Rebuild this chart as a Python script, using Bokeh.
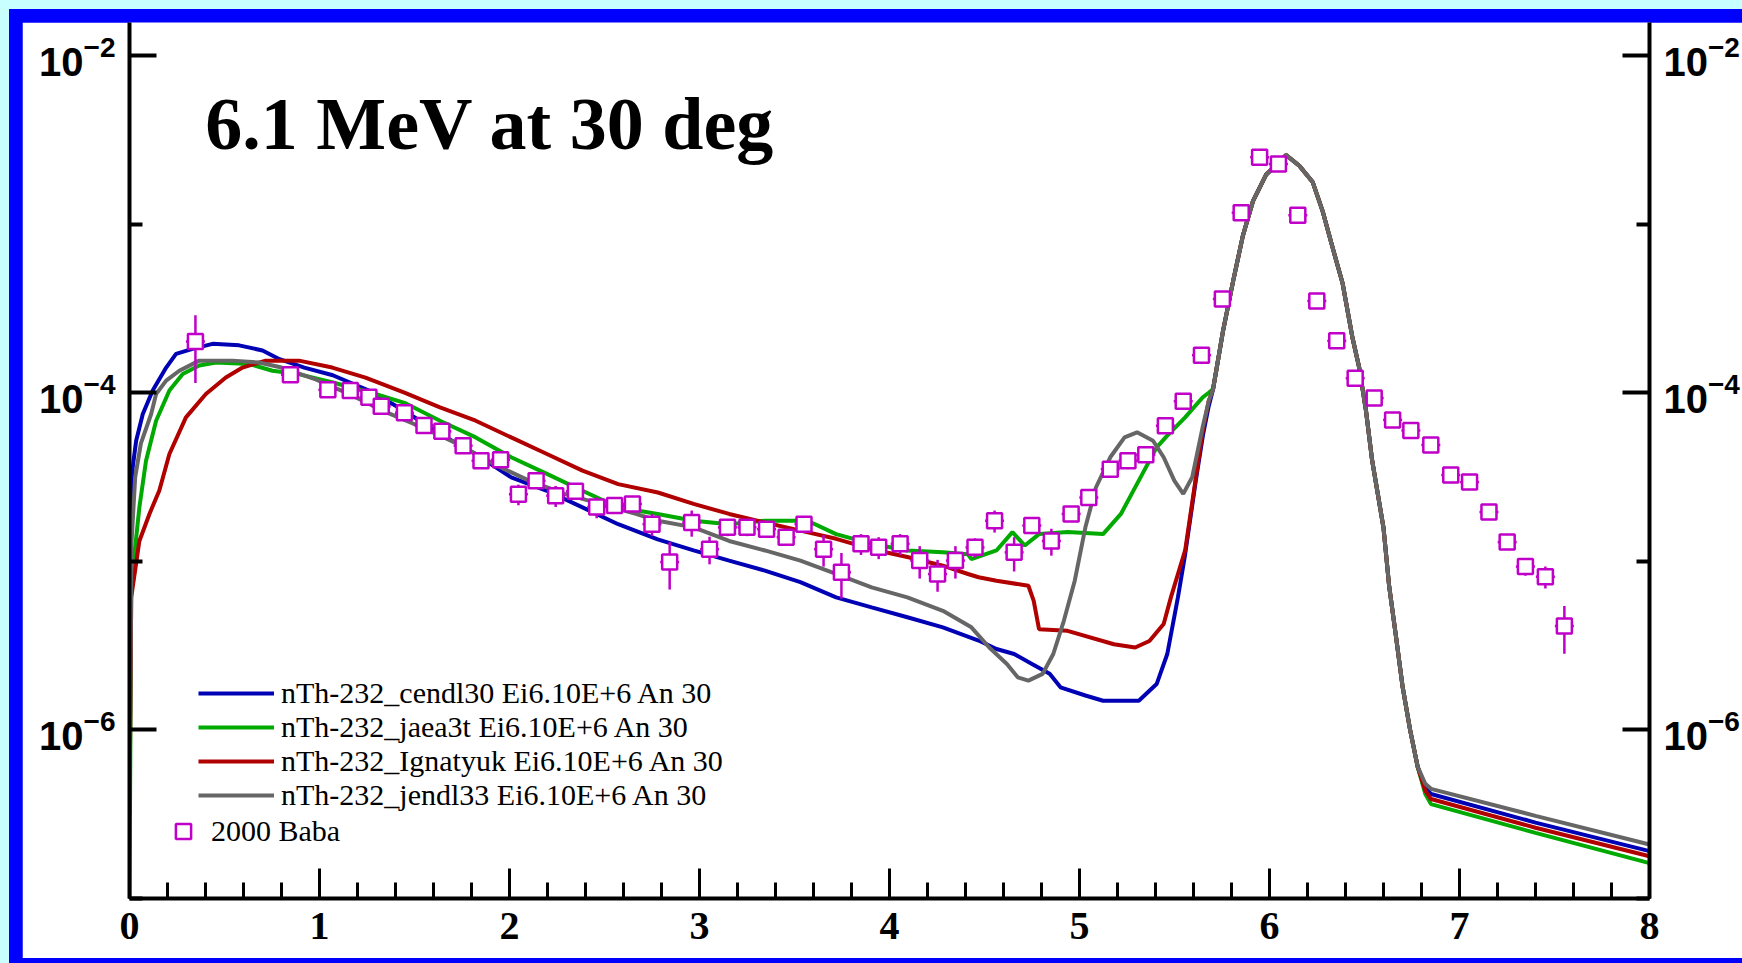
from bokeh.plotting import figure
from bokeh.models import (Range1d, LogAxis, FixedTicker, SingleIntervalTicker,
                          LogTickFormatter, Label, Legend, LegendItem)
from bokeh.embed import file_html
from bokeh.resources import INLINE

# ---------------- data (energy in MeV, DDX values) ----------------
peak_e = [5.703, 5.755, 5.808, 5.86, 5.913, 5.983, 6.052, 6.087, 6.157, 6.227, 6.28, 6.332,
          6.385, 6.437, 6.472, 6.507, 6.54, 6.57, 6.6, 6.63, 6.665, 6.7, 6.74, 6.78]
peak_v = [1.05e-4, 2.31e-4, 4.56e-4, 8.55e-4, 1.37e-3, 1.97e-3, 2.33e-3, 2.57e-3, 2.22e-3,
          1.78e-3, 1.19e-3, 7.26e-4, 4.44e-4, 2.11e-4, 1.41e-4, 7.94e-5, 3.98e-5, 2.51e-5,
          1.58e-5, 7.08e-6, 3.63e-6, 1.82e-6, 1.0e-6, 6.03e-7]
tail_e = [6.82, 6.85, 7.4, 8.0]

cendl_e = [0.0, 0.009, 0.017, 0.035, 0.07, 0.122, 0.193, 0.245, 0.332, 0.437, 0.577, 0.70,
           0.79, 0.92, 1.07, 1.26, 1.447, 1.634, 1.822, 2.009, 2.197, 2.384, 2.572, 2.78,
           2.969, 3.156, 3.344, 3.531, 3.719, 3.906, 4.094, 4.281, 4.469, 4.563, 4.656, 4.75,
           4.843, 4.9, 5.031, 5.124, 5.312, 5.406, 5.462, 5.518, 5.556, 5.612, 5.65, 5.68]
cendl_v = [3.16e-7, 2.09e-5, 3.63e-5, 5.19e-5, 7.48e-5, 1.03e-4, 1.41e-4, 1.70e-4, 1.82e-4,
           1.95e-4, 1.91e-4, 1.78e-4, 1.58e-4, 1.41e-4, 1.27e-4, 1.03e-4, 7.82e-5, 5.69e-5,
           4.33e-5, 3.15e-5, 2.62e-5, 2.09e-5, 1.66e-5, 1.35e-5, 1.16e-5, 1.01e-5, 8.81e-6,
           7.52e-6, 6.11e-6, 5.33e-6, 4.66e-6, 4.06e-6, 3.39e-6, 3.02e-6, 2.82e-6, 2.46e-6,
           2.15e-6, 1.79e-6, 1.60e-6, 1.49e-6, 1.49e-6, 1.87e-6, 2.82e-6, 6.11e-6, 1.10e-5,
           3.01e-5, 5.62e-5, 8.32e-5]
cendl_tail_v = [4.57e-7, 4.17e-7, 2.82e-7, 1.91e-7]

jaea_e = [0.0, 0.009, 0.026, 0.052, 0.087, 0.14, 0.21, 0.28, 0.367, 0.455, 0.63, 0.752, 0.89,
          1.07, 1.26, 1.447, 1.634, 1.822, 2.009, 2.197, 2.384, 2.572, 2.78, 2.969, 3.156,
          3.344, 3.569, 3.719, 3.906, 4.094, 4.281, 4.413, 4.431, 4.563, 4.647, 4.712, 4.787,
          4.937, 5.124, 5.218, 5.312, 5.406, 5.462, 5.556, 5.649, 5.68]
jaea_v = [1.0e-7, 6.76e-6, 1.10e-5, 2.09e-5, 3.95e-5, 6.82e-5, 1.03e-4, 1.29e-4, 1.45e-4,
          1.51e-4, 1.48e-4, 1.35e-4, 1.29e-4, 1.15e-4, 1.01e-4, 8.71e-5, 6.82e-5, 5.43e-5,
          4.14e-5, 3.30e-5, 2.62e-5, 2.09e-5, 1.91e-5, 1.74e-5, 1.66e-5, 1.74e-5, 1.74e-5,
          1.45e-5, 1.27e-5, 1.16e-5, 1.13e-5, 1.10e-5, 1.03e-5, 1.16e-5, 1.49e-5, 1.24e-5,
          1.45e-5, 1.49e-5, 1.45e-5, 1.91e-5, 3.01e-5, 4.74e-5, 5.56e-5, 7.14e-5, 9.40e-5,
          1.0e-4]
jaea_tail_v = [4.17e-7, 3.63e-7, 2.45e-7, 1.62e-7]

ign_e = [0.0, 0.009, 0.052, 0.105, 0.157, 0.21, 0.297, 0.402, 0.507, 0.595, 0.717, 0.892,
         1.067, 1.242, 1.447, 1.634, 1.822, 2.009, 2.197, 2.384, 2.572, 2.781, 2.969, 3.156,
         3.344, 3.531, 3.719, 3.906, 4.094, 4.281, 4.413, 4.469, 4.563, 4.731, 4.759, 4.787,
         4.937, 5.181, 5.293, 5.368, 5.443, 5.481, 5.556, 5.649, 5.68]
ign_v = [3.16e-7, 6.11e-6, 1.32e-5, 1.91e-5, 2.63e-5, 4.33e-5, 7.14e-5, 9.82e-5, 1.23e-4,
         1.41e-4, 1.55e-4, 1.55e-4, 1.41e-4, 1.23e-4, 1.0e-4, 8.18e-5, 6.82e-5, 5.43e-5,
         4.33e-5, 3.45e-5, 2.87e-5, 2.56e-5, 2.19e-5, 1.91e-5, 1.70e-5, 1.52e-5, 1.36e-5,
         1.18e-5, 1.06e-5, 9.42e-6, 8.41e-6, 8.04e-6, 7.67e-6, 7.16e-6, 5.83e-6, 3.96e-6,
         3.87e-6, 3.22e-6, 3.08e-6, 3.37e-6, 4.25e-6, 6.11e-6, 1.16e-5, 5.96e-5, 8.91e-5]
ign_tail_v = [4.37e-7, 3.89e-7, 2.63e-7, 1.78e-7]

jendl_e = [0.0, 0.01, 0.03, 0.06, 0.114, 0.14, 0.193, 0.262, 0.367, 0.542, 0.682, 0.80, 0.98,
           1.16, 1.353, 1.541, 1.728, 1.915, 2.103, 2.29, 2.478, 2.665, 2.781, 2.969, 3.156,
           3.344, 3.531, 3.719, 3.906, 4.094, 4.281, 4.431, 4.525, 4.618, 4.675, 4.731, 4.806,
           4.862, 4.918, 4.975, 5.031, 5.087, 5.162, 5.237, 5.303, 5.387, 5.443, 5.499, 5.546,
           5.593, 5.649, 5.68]
jendl_v = [3.16e-7, 1.26e-5, 3.16e-5, 5.01e-5, 7.48e-5, 9.82e-5, 1.18e-4, 1.35e-4, 1.55e-4,
           1.55e-4, 1.51e-4, 1.41e-4, 1.20e-4, 9.77e-5, 7.64e-5, 6.22e-5, 4.97e-5, 3.78e-5,
           3.01e-5, 2.51e-5, 2.19e-5, 1.91e-5, 1.74e-5, 1.59e-5, 1.32e-5, 1.16e-5, 1.01e-5,
           8.41e-6, 7.01e-6, 6.11e-6, 5.09e-6, 4.06e-6, 3.08e-6, 2.46e-6, 2.05e-6, 1.96e-6,
           2.15e-6, 2.82e-6, 4.45e-6, 7.67e-6, 1.59e-5, 2.75e-5, 4.14e-5, 5.43e-5, 5.82e-5,
           5.19e-5, 4.14e-5, 3.01e-5, 2.51e-5, 3.15e-5, 6.31e-5, 8.91e-5]
jendl_tail_v = [4.79e-7, 4.47e-7, 3.09e-7, 2.09e-7]

baba_e = [0.347, 0.847, 1.044, 1.162, 1.26, 1.325, 1.447, 1.55, 1.644, 1.756, 1.85, 1.953,
          2.047, 2.14, 2.243, 2.347, 2.459, 2.553, 2.647, 2.75, 2.843, 2.959, 3.053, 3.147,
          3.25, 3.353, 3.456, 3.55, 3.653, 3.747, 3.85, 3.943, 4.056, 4.159, 4.253, 4.347,
          4.45, 4.553, 4.656, 4.749, 4.852, 4.956, 5.049, 5.162, 5.255, 5.349, 5.452, 5.546,
          5.642, 5.752, 5.851, 5.948, 6.047, 6.149, 6.249, 6.354, 6.451, 6.551, 6.648, 6.744,
          6.849, 6.954, 7.053, 7.155, 7.251, 7.347, 7.452, 7.552]
baba_v = [2.01e-4, 1.28e-4, 1.04e-4, 1.03e-4, 9.4e-5, 8.3e-5, 7.6e-5, 6.4e-5, 5.9e-5, 4.85e-5,
          3.95e-5, 4.0e-5, 2.5e-5, 3.0e-5, 2.45e-5, 2.6e-5, 2.1e-5, 2.14e-5, 2.19e-5, 1.66e-5,
          9.9e-6, 1.70e-5, 1.18e-5, 1.59e-5, 1.59e-5, 1.55e-5, 1.39e-5, 1.66e-5, 1.18e-5,
          8.6e-6, 1.27e-5, 1.21e-5, 1.27e-5, 1.01e-5, 8.4e-6, 1.01e-5, 1.21e-5, 1.74e-5,
          1.13e-5, 1.63e-5, 1.32e-5, 1.91e-5, 2.39e-5, 3.52e-5, 3.95e-5, 4.28e-5, 6.37e-5,
          8.9e-5, 1.67e-4, 3.6e-4, 1.17e-3, 2.49e-3, 2.27e-3, 1.13e-3, 3.5e-4, 2.03e-4,
          1.22e-4, 9.3e-5, 6.9e-5, 5.97e-5, 4.9e-5, 3.25e-5, 2.95e-5, 1.96e-5, 1.3e-5, 9.3e-6,
          8.1e-6, 4.13e-6]
baba_err = [8.7e-5, 1.0e-5, 8e-6, 8e-6, 7e-6, 6.5e-6, 6e-6, 5e-6, 4.5e-6, 4e-6, 3.5e-6, 3.5e-6,
            3.5e-6, 3.0e-6, 3.5e-6, 2.5e-6, 3.0e-6, 2.0e-6, 2.0e-6, 2.5e-6, 3.1e-6, 3.0e-6,
            2.2e-6, 1.8e-6, 1.8e-6, 1.5e-6, 1.5e-6, 1.5e-6, 2.5e-6, 2.6e-6, 1.8e-6, 1.8e-6,
            1.8e-6, 2.2e-6, 1.8e-6, 2.2e-6, 1.6e-6, 2.6e-6, 2.6e-6, 1.8e-6, 2.4e-6, 2.0e-6,
            2.0e-6, 2.5e-6, 2.5e-6, 2.5e-6, 4e-6, 5e-6, 8e-6, 1.5e-5, 4e-5, 8e-5, 7e-5, 4e-5,
            1.2e-5, 8e-6, 5e-6, 4e-6, 3e-6, 2.5e-6, 2.2e-6, 1.8e-6, 1.8e-6, 1.4e-6, 1.3e-6,
            1.1e-6, 1.2e-6, 1.3e-6]
baba_de = 0.05  # half-width of the energy bins

labels = ["nTh-232_cendl30 Ei6.10E+6 An 30", "nTh-232_jaea3t Ei6.10E+6 An 30",
          "nTh-232_Ignatyuk Ei6.10E+6 An 30", "nTh-232_jendl33 Ei6.10E+6 An 30"]
data_label = "2000 Baba"
title_text = "6.1 MeV at 30 deg"
y_major = [1e-6, 1e-4, 1e-2]
y_minor = [1e-7, 1e-5, 1e-3]

# ---------------- figure ----------------
p = figure(width=1720, height=936, x_range=Range1d(0, 8), y_range=Range1d(1e-7, 1.57e-2),
           y_axis_type="log", output_backend="svg", toolbar_location=None,
           min_border_left=107, min_border_right=88, min_border_top=0, min_border_bottom=60)
p.outline_line_color = None
p.grid.visible = False
p.background_fill_color = "white"
p.border_fill_color = "white"

colors = ["#0000b4", "#00aa00", "#b00000", "#666666"]
series = [(cendl_e, cendl_v, cendl_tail_v), (jaea_e, jaea_v, jaea_tail_v),
          (ign_e, ign_v, ign_tail_v), (jendl_e, jendl_v, jendl_tail_v)]
line_renderers = []
for (e, v, tv), c in zip(series, colors):
    r = p.line(e + peak_e + tail_e, v + peak_v + tv, line_color=c, line_width=4)
    line_renderers.append(r)

# experimental points with error bars
lo = [v - d for v, d in zip(baba_v, baba_err)]
hi = [v + d for v, d in zip(baba_v, baba_err)]
mag = "#c000c8"
p.segment(x0=baba_e, y0=lo, x1=baba_e, y1=hi, line_color=mag, line_width=2.5)
p.segment(x0=[e - baba_de for e in baba_e], y0=baba_v, x1=[e + baba_de for e in baba_e],
          y1=baba_v, line_color=mag, line_width=2.5)
sq = p.scatter(baba_e, baba_v, marker="square", size=15, line_color=mag, line_width=2.5,
               fill_color="white")

# axes
right = LogAxis()
p.add_layout(right, "right")
for ax in [p.yaxis[0], right]:
    ax.ticker = FixedTicker(ticks=y_major, minor_ticks=y_minor)
    ax.formatter = LogTickFormatter()
    ax.axis_line_width = 4
    ax.axis_line_color = "black"
    ax.major_tick_line_width = 4
    ax.minor_tick_line_width = 4
    ax.major_tick_in = 27
    ax.major_tick_out = 0
    ax.minor_tick_in = 13
    ax.minor_tick_out = 0
    ax.major_label_text_font = "Liberation Sans"
    ax.major_label_text_font_style = "bold"
    ax.major_label_text_font_size = "40px"
    ax.major_label_text_color = "black"
    ax.major_label_standoff = 14

xa = p.xaxis[0]
xa.ticker = SingleIntervalTicker(interval=1, num_minor_ticks=5)
xa.axis_line_width = 4
xa.axis_line_color = "black"
xa.major_tick_line_width = 3
xa.minor_tick_line_width = 3
xa.major_tick_in = 30
xa.major_tick_out = 0
xa.minor_tick_in = 16
xa.minor_tick_out = 0
xa.major_label_text_font = "Liberation Sans Narrow"
xa.major_label_text_font_style = "bold"
xa.major_label_text_font_size = "40px"
xa.major_label_text_color = "black"
xa.major_label_standoff = 14

# title text inside the plot
p.add_layout(Label(x=0.399, y=3.9e-3, text=title_text, text_font="Liberation Serif",
                   text_font_style="bold", text_font_size="74px", text_color="black",
                   text_baseline="alphabetic"))

# legends
leg1 = Legend(items=[LegendItem(label=l, renderers=[r]) for l, r in zip(labels, line_renderers)],
              location=(69, 86), orientation="vertical", glyph_width=76, glyph_height=30,
              label_height=30, spacing=0, padding=0, margin=0, label_standoff=7,
              label_text_font="Liberation Serif", label_text_font_size="30px",
              label_text_color="black", border_line_alpha=0, background_fill_alpha=0)
leg2 = Legend(items=[LegendItem(label=data_label, renderers=[sq])],
              location=(35, 48), glyph_width=38, glyph_height=38, label_height=30,
              spacing=0, padding=0, margin=0, label_standoff=9,
              label_text_font="Liberation Serif", label_text_font_size="30px",
              label_text_color="black", border_line_alpha=0, background_fill_alpha=0)
p.add_layout(leg1)
p.add_layout(leg2)

css = ("<style>html{background:#c8ffff;overflow:hidden;margin:0;padding:0;}"
       "body{margin:9px 0 0 9px;padding:13px 0 5px 13px;background:#0000ff;overflow:hidden;}</style>")
open("out.html", "w").write(file_html(p, INLINE, title="nTh-232 DDX").replace("</head>", css + "</head>", 1))
